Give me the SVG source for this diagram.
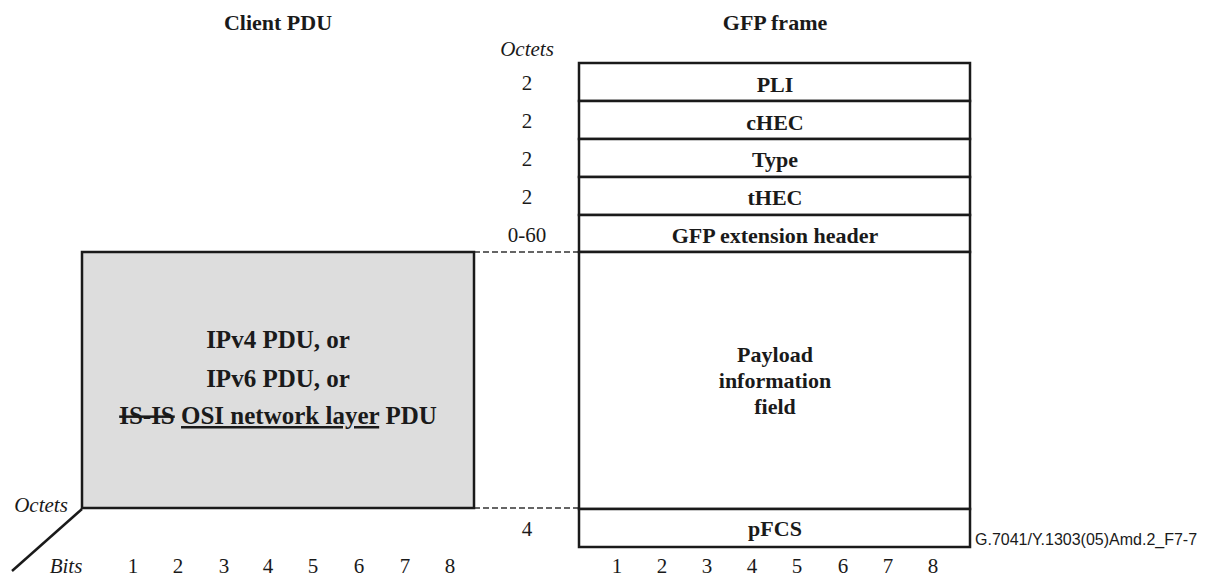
<svg xmlns="http://www.w3.org/2000/svg" width="1206" height="581" viewBox="0 0 1206 581">
<style>
.hd{font-family:"Liberation Serif",serif;font-weight:bold;font-size:22px;text-anchor:middle;fill:#1a1a1a}
.lb{font-family:"Liberation Serif",serif;font-weight:bold;font-size:22px;text-anchor:middle;fill:#1a1a1a}
.big{font-family:"Liberation Serif",serif;font-weight:bold;font-size:25px;text-anchor:middle;fill:#1a1a1a}
.num{font-family:"Liberation Serif",serif;font-size:21px;text-anchor:middle;fill:#1a1a1a}
.it{font-family:"Liberation Serif",serif;font-style:italic;font-size:21px;text-anchor:middle;fill:#1a1a1a}
.cell{fill:#ffffff;stroke:#1a1a1a;stroke-width:2.5}
.dash{stroke:#333;stroke-width:1.5;stroke-dasharray:6,3;fill:none}
.cap{font-family:"Liberation Sans",sans-serif;font-size:16px;fill:#1a1a1a}
</style>
<rect width="1206" height="581" fill="#ffffff"/>
<text class="hd" x="278" y="30">Client PDU</text>
<text class="hd" x="775" y="30">GFP frame</text>
<text class="it" x="527" y="56">Octets</text>

<g id="connectors">
<line class="dash" x1="474" y1="252" x2="579" y2="252"/>
<line class="dash" x1="474" y1="508" x2="579" y2="508"/>
<line x1="82" y1="509" x2="12" y2="571" stroke="#1a1a1a" stroke-width="2.5"/>
</g>

<g id="client-pdu">
<rect x="82" y="252" width="392" height="256" fill="#dddddd" stroke="#1a1a1a" stroke-width="2.5"/>
<text class="big" x="278" y="348">IPv4 PDU, or</text>
<text class="big" x="278" y="387">IPv6 PDU, or</text>
<text class="big" x="278" y="424"><tspan text-decoration="line-through">IS-IS</tspan> <tspan text-decoration="underline">OSI network layer</tspan> PDU</text>
</g>

<g id="pli"><rect class="cell" x="579" y="63" width="391" height="38"/><text class="lb" x="775" y="92">PLI</text><text class="num" x="527" y="90">2</text></g>
<g id="chec"><rect class="cell" x="579" y="101" width="391" height="38"/><text class="lb" x="775" y="130">cHEC</text><text class="num" x="527" y="128">2</text></g>
<g id="type"><rect class="cell" x="579" y="139" width="391" height="38"/><text class="lb" x="775" y="167">Type</text><text class="num" x="527" y="166">2</text></g>
<g id="thec"><rect class="cell" x="579" y="177" width="391" height="38"/><text class="lb" x="775" y="205">tHEC</text><text class="num" x="527" y="204">2</text></g>
<g id="ext"><rect class="cell" x="579" y="215" width="391" height="37"/><text class="lb" x="775" y="243">GFP extension header</text><text class="num" x="527" y="242">0-60</text></g>
<g id="payload"><rect class="cell" x="579" y="252" width="391" height="257"/>
<text class="lb" x="775" y="362">Payload</text>
<text class="lb" x="775" y="388">information</text>
<text class="lb" x="775" y="414">field</text></g>
<g id="pfcs"><rect class="cell" x="579" y="509" width="391" height="38"/><text class="lb" x="775" y="536">pFCS</text><text class="num" x="527" y="536">4</text></g>

<text class="it" x="41" y="512">Octets</text>
<text class="it" x="66" y="573">Bits</text>
<g id="bit-numbers">
<text class="num" x="133" y="573">1</text><text class="num" x="178" y="573">2</text><text class="num" x="224" y="573">3</text><text class="num" x="268" y="573">4</text><text class="num" x="313" y="573">5</text><text class="num" x="359" y="573">6</text><text class="num" x="405" y="573">7</text><text class="num" x="450" y="573">8</text>
<text class="num" x="617" y="573">1</text><text class="num" x="662" y="573">2</text><text class="num" x="707" y="573">3</text><text class="num" x="752" y="573">4</text><text class="num" x="797" y="573">5</text><text class="num" x="843" y="573">6</text><text class="num" x="888" y="573">7</text><text class="num" x="933" y="573">8</text>
</g>
<text class="cap" x="975" y="545">G.7041/Y.1303(05)Amd.2_F7-7</text>
</svg>
